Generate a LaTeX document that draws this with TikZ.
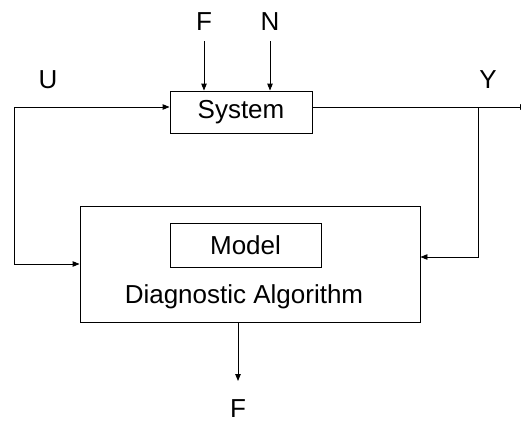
\documentclass[tikz,border=0pt]{standalone}
\usepackage{fontspec}
\setmainfont{Liberation Sans}
\usetikzlibrary{arrows.meta}
\begin{document}
\begin{tikzpicture}[x=1pt,y=-1pt,
  box/.style={draw, line width=0.9pt, inner sep=0pt, font=\fontsize{26}{30}\selectfont},
  lbl/.style={inner sep=0pt, font=\fontsize{26}{30}\selectfont},
  flow/.style={line width=0.9pt, -{Triangle[length=7pt,width=5.5pt]}}]
\useasboundingbox (0,0) rectangle (521,421);
\clip (0,0) rectangle (521,421);

% blocks
\node[box, minimum width=142pt, minimum height=42pt] (sys) at (241,112) {System};
\node[box, minimum width=340pt, minimum height=116pt] (diag) at (250,264) {};
\node[box, minimum width=151pt, minimum height=44pt] (model) at (245.5,245) {Model};
\node[lbl] (algo) at (244,297) {Diagnostic Algorithm};

% signal labels
\node[lbl] (fin) at (204,22) {F};
\node[lbl] (nin) at (270,22) {N};
\node[lbl] (ulbl) at (48,80) {U};
\node[lbl] (ylbl) at (488,80) {Y};
\node[lbl] (fout) at (238,409) {F};

% routing points
\coordinate (uL) at (14,107);
\coordinate (uB) at (14,264);
\coordinate (yJ) at (478,107);
\coordinate (yB) at (478,257);
\coordinate (yEnd) at (527,107);
\coordinate (fT) at (204,41);
\coordinate (nT) at (270,41);
\coordinate (oB) at (238,381);

% input U to system and to the diagnostic block
\draw[flow] (uL) -- (sys.west |- uL);
\draw[flow] (uL) -- (uB) -- (diag.west |- uB);

% output Y and its feedback to the diagnostic block
\draw[flow] (sys.east |- yJ) -- (yEnd);
\draw[flow] (yJ) -- (yB) -- (diag.east |- yB);

% fault and noise inputs
\draw[flow] (fT) -- (fT |- sys.north);
\draw[flow] (nT) -- (nT |- sys.north);

% diagnosed fault output
\draw[flow] (oB |- diag.south) -- (oB);
\end{tikzpicture}
\end{document}
